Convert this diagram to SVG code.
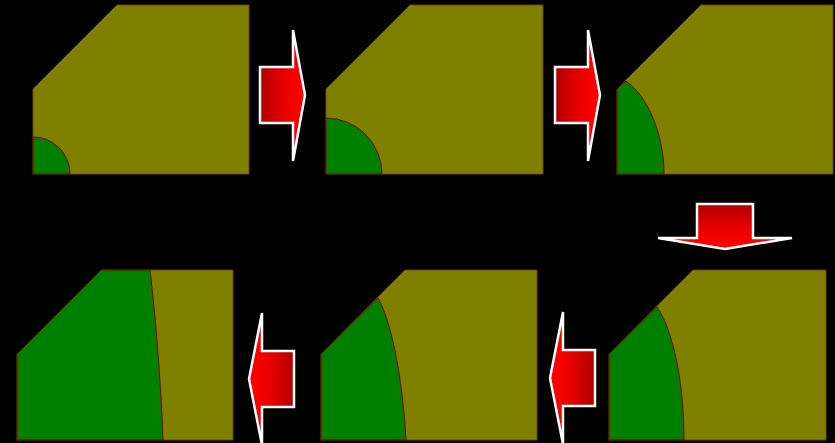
<svg xmlns="http://www.w3.org/2000/svg" width="835" height="443" viewBox="0 0 835 443">
<defs>
<linearGradient id="gr" x1="0" y1="0" x2="1" y2="0"><stop offset="0" stop-color="#b00000"/><stop offset="0.6" stop-color="#ee0000"/><stop offset="1" stop-color="#ff0000"/></linearGradient>
<linearGradient id="gl" x1="1" y1="0" x2="0" y2="0"><stop offset="0" stop-color="#b00000"/><stop offset="0.6" stop-color="#ee0000"/><stop offset="1" stop-color="#ff0000"/></linearGradient>
<linearGradient id="gd" x1="0" y1="0" x2="0" y2="1"><stop offset="0" stop-color="#b00000"/><stop offset="0.6" stop-color="#ee0000"/><stop offset="1" stop-color="#ff0000"/></linearGradient>
<style>
.ol{fill:#808000;stroke:#6a4a00;stroke-width:1}
.gr{fill:#008000;stroke:#800000;stroke-width:1}
.ar{stroke:#fff;stroke-width:2.5;stroke-linejoin:miter}
</style>
</defs>
<rect width="835" height="443" fill="#000"/>
<g id="panel1">
<polygon class="ol" points="33,89 117,5 249,5 249,174 33,174"/>
<path class="gr" d="M33,137 A37,37 0 0 1 70,174 L33,174 Z"/>
</g>
<g id="panel2">
<polygon class="ol" points="326,89 410,5 543,5 543,174 326,174"/>
<path class="gr" d="M326,118 A56,56 0 0 1 382,174 L326,174 Z"/>
</g>
<g id="panel3">
<polygon class="ol" points="617,89 701,5 833,5 833,174 617,174"/>
<path class="gr" d="M617,89 L626,81 C648,96 664,135 664,174 L617,174 Z"/>
</g>
<g id="panel4">
<polygon class="ol" points="17,354 101,270 233,270 233,440 17,440"/>
<path class="gr" d="M17,354 L101,270 L150,270 C156,320 161,385 163,440 L17,440 Z"/>
</g>
<g id="panel5">
<polygon class="ol" points="321,354 405,270 537,270 537,440 321,440"/>
<path class="gr" d="M321,354 L378,298 C393,325 403,385 406,440 L321,440 Z"/>
</g>
<g id="panel6">
<polygon class="ol" points="609,354 693,270 826,270 826,440 609,440"/>
<path class="gr" d="M609,354 L657,307 C674,332 684,385 684,440 L609,440 Z"/>
</g>
<g id="connectors">
<polygon class="ar" fill="url(#gr)" points="260,67 293,67 293,30 305,95 293,161 293,123 260,123"/>
<polygon class="ar" fill="url(#gr)" points="555,67 588,67 588,30 600,95 588,161 588,123 555,123"/>
<polygon class="ar" fill="url(#gd)" points="697,204 753,204 753,238 792,238 725,249 658,238 697,238"/>
<polygon class="ar" fill="url(#gl)" points="294,351 262,351 262,313 249,379 262,445 262,407 294,407"/>
<polygon class="ar" fill="url(#gl)" points="595,350 563,350 563,312 550,378 563,444 563,406 595,406"/>
</g>
</svg>
